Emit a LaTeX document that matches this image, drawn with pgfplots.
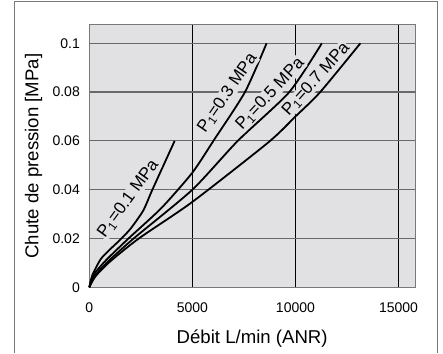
\documentclass[border=0pt]{standalone}
\usepackage{pgfplots}
\pgfplotsset{compat=1.18}
\usepackage{fontspec}
\setmainfont{Liberation Sans}
\definecolor{plotbg}{RGB}{225,225,227}
\definecolor{framegray}{RGB}{120,120,120}
\definecolor{hgrid}{RGB}{105,105,105}
\newcommand{\lbl}[1]{P\textsubscript{1}=#1 MPa}
\begin{document}
\begin{tikzpicture}
\useasboundingbox (0,0) rectangle (443pt,353pt);
\begin{axis}[
  at={(89.3pt,65.7pt)}, anchor=south west,
  scale only axis, width=325.7pt, height=262.3pt,
  xmin=0, xmax=15800, ymin=0, ymax=0.1075,
  axis background/.style={fill=plotbg},
  axis line style={framegray, line width=1pt},
  xtick={0,5000,10000,15000},
  xticklabels={0,5000,10000,15000},
  ytick={0,0.02,0.04,0.06,0.08,0.1},
  yticklabels={0,0.02,0.04,0.06,0.08,0.1},
  scaled x ticks=false, scaled y ticks=false,
  major tick length=0pt,
  xmajorgrids, ymajorgrids,
  major x grid style={black, line width=0.8pt},
  major y grid style={hgrid, line width=1.2pt},
  xticklabel style={font=\fontsize{14}{15}\selectfont, anchor=base, inner sep=0pt, yshift=-24.9pt},
  yticklabel style={font=\fontsize{14}{15}\selectfont, anchor=east, inner sep=0pt, xshift=-9.3pt},
  xlabel={Débit L/min (ANR)},
  ylabel={Chute de pression [MPa]},
  every axis x label/.style={at={(axis description cs:0.5,-0.2124)}, anchor=base, font=\fontsize{18.6}{20}\selectfont},
  every axis y label/.style={at={(axis description cs:-0.1566,0.5)}, rotate=90, anchor=base, font=\fontsize{18.6}{20}\selectfont},
  clip=false,
]
\addplot[black, line width=1.8pt, smooth, tension=0.4] coordinates {
  (0,0) (150,0.005) (550,0.0115) (1000,0.0155) (1500,0.0195) (2000,0.024) (2620,0.0315) (3060,0.04) (4140,0.06)};
\addplot[black, line width=1.8pt, smooth, tension=0.4] coordinates {
  (0,0) (200,0.005) (800,0.011) (1900,0.02) (3500,0.0325) (5000,0.047) (6020,0.06) (7550,0.08) (8600,0.1)};
\addplot[black, line width=1.8pt, smooth, tension=0.4] coordinates {
  (0,0) (250,0.0045) (900,0.0105) (2150,0.02) (5000,0.040) (7200,0.06) (9700,0.08) (11280,0.1)};
\addplot[black, line width=1.8pt, smooth, tension=0.4] coordinates {
  (0,0) (300,0.0045) (1000,0.0105) (2400,0.02) (5000,0.035) (8700,0.0595) (10000,0.07) (11200,0.08) (13150,0.1)};
\begin{scope}[every node/.style={fill=plotbg, inner sep=0.6pt, font=\fontsize{17}{19}\selectfont}]
\node[rotate=54] at (axis cs:1893,0.0362) {\lbl{0.1}};
\node[rotate=55.5] at (axis cs:6700,0.0795) {\lbl{0.3}};
\node[rotate=47] at (axis cs:8773,0.0792) {\lbl{0.5}};
\node[rotate=48] at (axis cs:11005,0.0853) {\lbl{0.7}};
\end{scope}
\end{axis}
\draw[framegray, line width=1pt] (14pt,0pt) -- (14pt,351.3pt) -- (437.3pt,351.3pt) -- (437.3pt,0pt);
\end{tikzpicture}
\end{document}
